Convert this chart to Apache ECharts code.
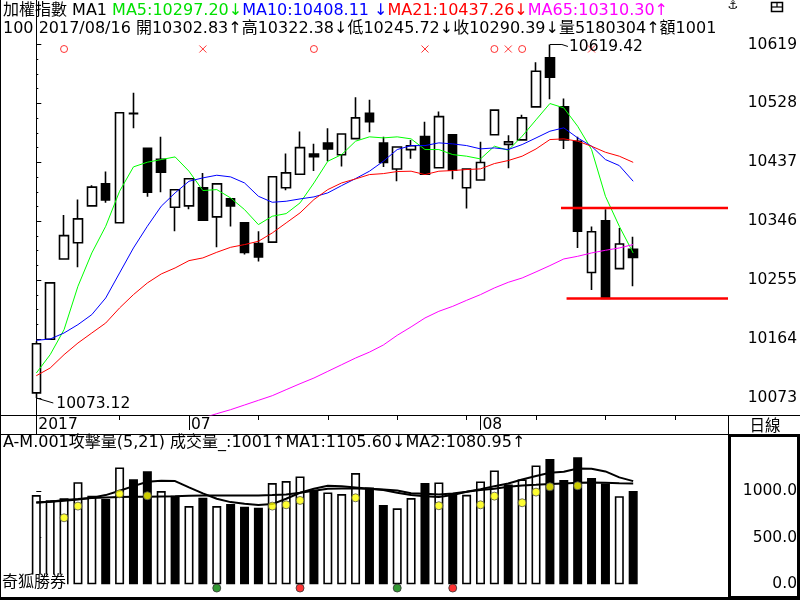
<!doctype html>
<html>
<head>
<meta charset="utf-8">
<title>加權指數 日線</title>
<script src="https://cdn.jsdelivr.net/npm/echarts@6.0.0/dist/echarts.min.js"></script>
<style>
  html, body { margin: 0; padding: 0; background: #fff; }
  #chart { width: 800px; height: 600px; }
</style>
</head>
<body>
<div id="chart"></div>
<script>
var FONT = '"DejaVu Sans", "Noto Sans CJK TC", sans-serif';

// daily bars, idx 0 = 2017/06/16 ... idx 43 = 2017/08/16
var opens  = [10081,10164,10288,10313,10370,10404,10344,10512.5,10459,10442,10368,10370,10398,10353,10381,10344,10312,10314,10398,10419,10450,10467,10449,10474,10513,10467,10427,10457,10477,10429,10480,10398,10410,10480,10465,10472,10523,10599,10523,10470,10267,10347,10273,10302.83];
var closes = [10157,10251,10324,10350,10399,10379,10514,10513,10391,10422,10395,10412,10348,10404,10370,10298,10291,10415,10421,10460,10446,10458,10481,10506,10500,10437,10461,10463,10419,10508,10425,10427,10437,10518,10469,10506,10578,10569,10472,10331,10330,10227,10311,10290.39];
var lows   = [10073.12,10163,10287,10275,10370,10375,10343,10490,10384,10391,10331,10365,10347,10306,10338,10295,10284,10314,10394,10419,10424,10439,10431,10473,10484,10430,10408,10443,10418,10428,10411,10366,10410,10480,10428,10471,10523,10535,10458,10305,10240,10227,10272,10245.72];
var highs  = [10161,10252,10356,10380,10402,10423,10514,10545,10459,10477,10395,10412,10421,10404,10381,10345,10331,10415,10451,10485,10466,10490,10481,10538,10534,10477,10461,10472,10500,10516,10480,10428,10469,10518,10479,10511,10592,10619.42,10536,10477,10338,10365,10336,10322.38];

// moving averages
var ma5  = [10111.7,10140.1,10178.7,10245.8,10297.3,10338.5,10392.6,10430.3,10437.5,10441.6,10445.7,10423.6,10393.7,10395.2,10382.3,10364.3,10341.1,10354.0,10358.1,10374.6,10405.5,10439.0,10449.3,10470.0,10476.7,10475.1,10476.7,10473.6,10457.1,10457.1,10449.3,10446.8,10442.6,10462.2,10456.0,10477.7,10503.0,10528.2,10521.5,10493.1,10457.1,10384.9,10338.5,10297.2];
var ma10 = [10162.2,10164.3,10173.6,10186.5,10202.0,10227.7,10266.4,10305.0,10338.5,10369.5,10390.1,10408.1,10413.3,10417.4,10414.8,10405.5,10384.9,10375.6,10377.2,10380.8,10383.9,10390.1,10401.4,10412.2,10423.6,10439.0,10457.1,10463.2,10463.2,10467.4,10465.8,10463.2,10458.1,10459.6,10457.1,10464.8,10475.0,10485.4,10490.6,10475.1,10462.2,10441.6,10432.3,10408.1];
var ma21 = [10107.6,10119.5,10140.1,10158.1,10173.6,10189.0,10212.3,10232.9,10250.9,10264.8,10274.1,10285.4,10289.6,10298.3,10306.0,10310.2,10315.3,10328.2,10343.7,10359.2,10379.8,10395.2,10405.5,10411.7,10418.4,10419.9,10423.1,10423.6,10418.4,10423.6,10424.6,10426.2,10427.2,10435.4,10440.1,10446.8,10458.0,10472.5,10473.6,10470.0,10462.2,10452.9,10446.8,10437.3];
var ma65Start = 12;
var ma65 = [10042.2,10048.9,10055.1,10062.3,10069.5,10076.7,10086.0,10095.2,10104.0,10114.3,10124.6,10134.9,10144.0,10155.0,10170.0,10183.0,10196.8,10207.1,10214.8,10224.1,10232.9,10243.2,10251.9,10258.6,10268.0,10277.7,10288.0,10292.1,10297.3,10301.4,10305.0,10310.3];

// volume pane
var vols   = [956,900,921,1095,949,913,1252,1127,1213,999,949,838,927,838,860,831,820,1085,1106,1156,1010,985,967,1192,1038,849,814,924,1085,1092,974,959,1103,1221,1071,1124,1274,1342,1117,1363,1138,1081,945,1001];
var volUp  = [1,1,1,1,1,0,1,0,0,1,0,1,0,1,0,0,0,1,1,1,0,1,1,1,0,0,1,1,0,1,0,1,1,1,0,1,1,0,0,0,0,0,1,0];
var volMa1 = [878,885,895,910,927,956,1002,1052,1099,1109,1106,1038,974,917,881,863,849,860,917,981,1024,1056,1052,1038,1024,1010,981,956,945,935,956,991,1020,1052,1081,1124,1160,1195,1206,1242,1238,1210,1146,1106];
var volMa2 = [878,885,903,913,924,931,935,938,938,942,945,949,953,953,953,953,953,956,963,981,1002,1024,1028,1028,1024,1017,1006,977,970,963,974,991,1010,1024,1045,1060,1066,1074,1081,1088,1090,1088,1084,1081];
var yellowIdx = [2,3,6,8,17,18,19,23,29,32,33,35,36,37,39];
var yellowVal = [713,838,970,949,838,852,899,927,842,852,945,874,988,1045,1056];
var greenIdx = [13,26];
var redIdx = [19,30];
var dotLevel = -40;

// signal marks in the top strip
var sigCircleIdx = [2,20,33,35];
var sigCrossIdx = [12,28,34,40];

// red support / resistance lines
var levelPrice = [10366.9, 10226.7];
var levelFrom = [37.8, 38.2];

// axis ticks
var priceTicks = [10073.12,10164.17,10255.22,10346.27,10437.32,10528.37,10619.42];
var volTicks = [0,500,1000];
var volMinorTicks = [125,250,375,625,750,875];
var weekTickIdx = [6,16,21,26,31,36,41,46];
var yearTickIdx = [0], yearTickLabel = ['2017'];
var monthTickIdx = [11,32], monthTickLabel = ['07','08'];

var X_MIN = -2.615, X_MAX = 49.83;
var P_MIN = 10046.85, P_MAX = 10688.19;
var V_MIN = -146.8, V_MAX = 1600.2;

var priceMinor = [];
for (var i = 0; i < priceTicks.length - 1; i++) {
  var st = (priceTicks[i + 1] - priceTicks[i]) / 4;
  for (var k = 1; k < 4; k++) priceMinor.push(priceTicks[i] + st * k);
}

function xAx(grid, extra) {
  var a = {
    type: 'value', gridIndex: grid, min: X_MIN, max: X_MAX, position: 'bottom',
    splitLine: { show: false }, axisLine: { show: false },
    axisTick: { show: false }, axisLabel: { show: false }
  };
  for (var key in extra) a[key] = extra[key];
  return a;
}

var lbl = { color: '#000', fontFamily: FONT, fontSize: 15.5 };

var chart = echarts.init(document.getElementById('chart'));

var option = {
  animation: false,
  backgroundColor: '#fff',
  grid: [
    { left: 0, right: 72, top: 0, height: 415, outerBoundsMode: 'none' },
    { left: 0, right: 72, top: 42, height: 14, outerBoundsMode: 'none' },
    { left: 0, right: 72, top: 435, height: 163, outerBoundsMode: 'none' }
  ],
  xAxis: [
    xAx(0, {
      axisLine: { show: true, onZero: false, lineStyle: { color: '#000', width: 1 } },
      axisTick: { show: true, customValues: weekTickIdx, length: 5, lineStyle: { color: '#000' } }
    }),
    xAx(0, {
      axisTick: { show: true, customValues: yearTickIdx, length: 20, lineStyle: { color: '#000' } },
      axisLabel: { show: true, customValues: yearTickIdx, align: 'left', verticalAlign: 'middle', margin: 10, padding: [0, 0, 0, 2],
        color: '#000', fontFamily: FONT, fontSize: 15.5,
        formatter: function (v) { return yearTickLabel[yearTickIdx.indexOf(Math.round(v))]; } }
    }),
    xAx(0, {
      axisTick: { show: true, customValues: monthTickIdx, length: 15, lineStyle: { color: '#000' } },
      axisLabel: { show: true, customValues: monthTickIdx, align: 'left', verticalAlign: 'middle', margin: 10, padding: [0, 0, 0, 2],
        color: '#000', fontFamily: FONT, fontSize: 15.5,
        formatter: function (v) { return monthTickLabel[monthTickIdx.indexOf(Math.round(v))]; } }
    }),
    xAx(1, {}),
    xAx(2, {})
  ],
  yAxis: [
    { type: 'value', gridIndex: 0, position: 'right', min: P_MIN, max: P_MAX, splitLine: { show: false },
      axisLine: { show: true, lineStyle: { color: '#000', width: 1 } },
      axisTick: { show: true, customValues: priceTicks, length: 5, lineStyle: { color: '#000' } },
      axisLabel: { show: true, customValues: priceTicks, align: 'right', margin: 69, color: '#000', fontFamily: FONT, fontSize: 15.5,
        formatter: function (v) { return String(Math.floor(v + 0.001)); } } },
    { type: 'value', gridIndex: 0, position: 'right', min: P_MIN, max: P_MAX, splitLine: { show: false },
      axisLine: { show: false }, axisLabel: { show: false },
      axisTick: { show: true, customValues: priceMinor, length: 2, lineStyle: { color: '#000' } } },
    { type: 'value', gridIndex: 1, min: 0, max: 1, show: false },
    { type: 'value', gridIndex: 2, position: 'right', min: V_MIN, max: V_MAX, splitLine: { show: false },
      axisLine: { show: false },
      axisTick: { show: true, customValues: volTicks, length: 5, lineStyle: { color: '#000' } },
      axisLabel: { show: true, customValues: volTicks, align: 'right', margin: 69, color: '#000', fontFamily: FONT, fontSize: 15.5,
        formatter: function (v) { return v.toFixed(1); } } },
    { type: 'value', gridIndex: 2, position: 'right', min: V_MIN, max: V_MAX, splitLine: { show: false },
      axisLine: { show: false }, axisLabel: { show: false },
      axisTick: { show: true, customValues: volMinorTicks, length: 3, lineStyle: { color: '#000' } } }
  ],
  series: [
    { type: 'candlestick', xAxisIndex: 0, yAxisIndex: 0, silent: true, barWidth: 9, z: 3,
      data: opens.map(function (o, i) { return [i, o, closes[i], lows[i], highs[i]]; }),
      itemStyle: { color: '#fff', color0: '#000', borderColor: '#000', borderColor0: '#000', borderColorDoji: '#000', borderWidth: 1.6 } },
    { type: 'line', xAxisIndex: 0, yAxisIndex: 0, silent: true, symbol: 'none', z: 4,
      data: ma5.map(function (v, i) { return [i, v]; }), lineStyle: { color: '#00ff00', width: 1 } },
    { type: 'line', xAxisIndex: 0, yAxisIndex: 0, silent: true, symbol: 'none', z: 4,
      data: ma10.map(function (v, i) { return [i, v]; }), lineStyle: { color: '#0000ff', width: 1 } },
    { type: 'line', xAxisIndex: 0, yAxisIndex: 0, silent: true, symbol: 'none', z: 4,
      data: ma21.map(function (v, i) { return [i, v]; }), lineStyle: { color: '#ff0000', width: 1 } },
    { type: 'line', xAxisIndex: 0, yAxisIndex: 0, silent: true, symbol: 'none', z: 4,
      data: ma65.map(function (v, i) { return [i + ma65Start, v]; }), lineStyle: { color: '#ff00ff', width: 1 } },
    { type: 'line', xAxisIndex: 0, yAxisIndex: 0, silent: true, symbol: 'none', z: 5,
      data: [[levelFrom[0], levelPrice[0]], [X_MAX, levelPrice[0]]], lineStyle: { color: '#ff0000', width: 2.5 } },
    { type: 'line', xAxisIndex: 0, yAxisIndex: 0, silent: true, symbol: 'none', z: 5,
      data: [[levelFrom[1], levelPrice[1]], [X_MAX, levelPrice[1]]], lineStyle: { color: '#ff0000', width: 2.5 } },
    { type: 'scatter', xAxisIndex: 3, yAxisIndex: 2, silent: true, symbol: 'circle', symbolSize: 7,
      data: sigCircleIdx.map(function (i) { return [i, 0.5]; }),
      itemStyle: { color: 'rgba(0,0,0,0)', borderColor: '#ff0000', borderWidth: 1 } },
    { type: 'scatter', xAxisIndex: 3, yAxisIndex: 2, silent: true, symbol: 'path://M0,0L10,10M10,0L0,10', symbolSize: 7,
      data: sigCrossIdx.map(function (i) { return [i, 0.5]; }),
      itemStyle: { color: 'rgba(0,0,0,0)', borderColor: '#ff0000', borderWidth: 1 } },
    { type: 'bar', xAxisIndex: 4, yAxisIndex: 3, silent: true, barWidth: 9, z: 2,
      data: vols.map(function (v, i) {
        return { value: [i, v], itemStyle: { color: volUp[i] ? '#fff' : '#000', borderColor: '#000', borderWidth: 1.6 } };
      }) },
    { type: 'line', xAxisIndex: 4, yAxisIndex: 3, silent: true, symbol: 'none', z: 3,
      data: volMa1.map(function (v, i) { return [i, v]; }), lineStyle: { color: '#000', width: 2 } },
    { type: 'line', xAxisIndex: 4, yAxisIndex: 3, silent: true, symbol: 'none', z: 3,
      data: volMa2.map(function (v, i) { return [i, v]; }), lineStyle: { color: '#000', width: 2 } },
    { type: 'scatter', xAxisIndex: 4, yAxisIndex: 3, silent: true, symbolSize: 8, z: 4,
      data: yellowIdx.map(function (i, k) { return [i, yellowVal[k]]; }),
      itemStyle: { color: '#ffff00', borderColor: '#555', borderWidth: 1 } },
    { type: 'scatter', xAxisIndex: 4, yAxisIndex: 3, silent: true, symbolSize: 8, z: 4,
      data: greenIdx.map(function (i) { return [i, dotLevel]; }),
      itemStyle: { color: '#008000', borderColor: '#333', borderWidth: 1 } },
    { type: 'scatter', xAxisIndex: 4, yAxisIndex: 3, silent: true, symbolSize: 8, z: 4,
      data: redIdx.map(function (i) { return [i, dotLevel]; }),
      itemStyle: { color: '#ff0000', borderColor: '#333', borderWidth: 1 } }
  ]
};
chart.setOption(option);

// frame, header texts and extreme-value labels
function ln(x1, y1, x2, y2, w) {
  return { type: 'line', z: 100, silent: true, shape: { x1: x1, y1: y1, x2: x2, y2: y2 }, style: { stroke: '#000', lineWidth: w || 1 } };
}
function txt(s, x, y, opt) {
  var st = { text: s, x: x, y: y, fill: '#000', font: '16px ' + FONT, verticalAlign: 'middle', align: 'left' };
  for (var key in opt) st[key] = opt[key];
  return { type: 'text', z: 110, silent: true, style: st };
}
var f16 = '16px ' + FONT;
var pHigh = chart.convertToPixel({ seriesIndex: 0 }, [37, highs[37]]);
var pLow = chart.convertToPixel({ seriesIndex: 0 }, [0, lows[0]]);

var graphics = [
  ln(0.5, 0, 0.5, 600),
  ln(728, 415.5, 800, 415.5),
  ln(728.5, 415, 728.5, 435),
  ln(0, 434.5, 728, 434.5),
  { type: 'rect', z: 100, silent: true, shape: { x: 729.5, y: 435.5, width: 69, height: 162 }, style: { fill: null, stroke: '#000', lineWidth: 3 } },
  ln(0, 598.5, 800, 598.5, 3),
  txt('日線', 765, 427, { align: 'center', font: '15.5px ' + FONT }),
  txt('⚓', 733, 6, { align: 'center', font: 'bold 12px ' + FONT }),
  { type: 'rect', z: 100, silent: true, shape: { x: 771.5, y: 2.5, width: 11, height: 9 }, style: { fill: null, stroke: '#000', lineWidth: 1.5 } },
  ln(771.5, 7, 782.5, 7, 1.2),
  ln(777, 2.5, 777, 7, 1.2),
  txt('{k|加權指數 MA1 }{g|MA5:10297.20↓}{b|MA10:10408.11 ↓}{r|MA21:10437.26↓}{m|MA65:10310.30↑}', 3, 11, {
    rich: {
      k: { fill: '#000', font: f16 }, g: { fill: '#00e000', font: f16 }, b: { fill: '#0000ff', font: f16 },
      r: { fill: '#ff0000', font: f16 }, m: { fill: '#ff00ff', font: f16 }
    }
  }),
  txt('100 2017/08/16 開10302.83↑高10322.38↓低10245.72↓收10290.39↓量5180304↑額1001', 3, 29),
  txt('A-M.001攻擊量(5,21) 成交量_:1001↑MA1:1105.60↓MA2:1080.95↑', 3, 443),
  txt('奇狐勝券', 2, 583, { backgroundColor: '#fff', padding: [1, 1, 0, 0] }),
  { type: 'polyline', z: 100, silent: true, shape: { points: [[pHigh[0], pHigh[1]], [pHigh[0] + 12, pHigh[1]], [pHigh[0] + 18, pHigh[1] + 2]] },
    style: { fill: null, stroke: '#000', lineWidth: 1 } },
  txt(highs[37].toFixed(2), pHigh[0] + 19, pHigh[1] + 2, { font: '15.5px ' + FONT }),
  { type: 'polyline', z: 100, silent: true, shape: { points: [[pLow[0], pLow[1]], [pLow[0] + 17, pLow[1] + 5]] },
    style: { fill: null, stroke: '#000', lineWidth: 1 } },
  txt(lows[0].toFixed(2), pLow[0] + 20, pLow[1] + 5.5, { font: '15.5px ' + FONT })
];
chart.setOption({ graphic: graphics });
</script>
</body>
</html>
